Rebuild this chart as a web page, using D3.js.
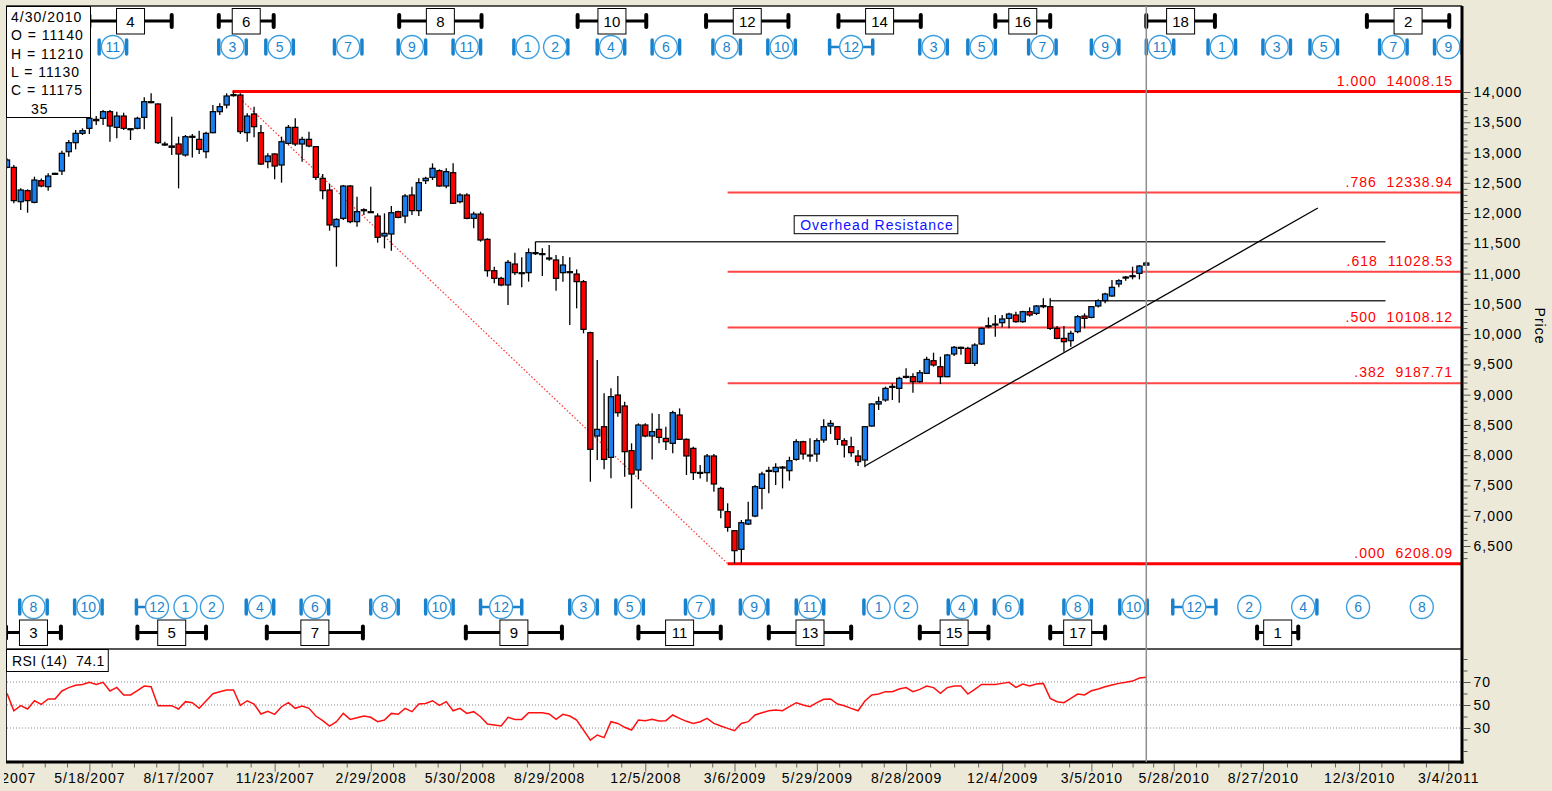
<!DOCTYPE html>
<html>
<head>
<meta charset="utf-8">
<script src="https://cdn.jsdelivr.net/npm/d3@7"></script>
<style>
  html, body { margin: 0; padding: 0; background: #ECE9D8; }
  svg { display: block; font-family: "Liberation Sans", Arial, sans-serif; }
</style>
</head>
<body>
<svg id="chart" width="1552" height="791"></svg>
<script>
// weekly candles, Friday dates 2/23/2007 .. 4/30/2010
const weeks = d3.timeFriday.range(new Date(2007, 1, 23), new Date(2010, 4, 1));

const opens = [12755,12755,12188,12370,12177,12535,12436,12640,12695,13014,13163,13317,13400,13548,13565,13675,13416,13603,13394,13400,
  13581,13840,13802,13141,13108,13141,12959,13262,13218,13014,13328,13675,13785,13950,13950,13328,13636,13328,12849,12976,
  12794,13152,13416,13141,13218,13097,12574,12381,11775,11913,12447,11858,12045,12023,11951,11621,11654,12023,11951,12298,
  12040,12535,12590,12700,12447,12667,12188,12298,11913,11984,11566,11048,10921,10812,11158,11015,11015,11346,11330,11252,
  11225,11015,11032,10993,10867,10024,8317,8471,7964,8994,8813,8075,7755,8499,8317,8427,8278,8196,8664,8262,
  8113,7706,7711,7987,7452,7067,6753,6445,6863,6995,7452,7739,7728,7794,7744,7931,8223,7993,8020,8251,
  8482,8471,8240,8141,7987,7920,8482,8846,8912,9127,9104,9292,9297,9214,9352,9561,9462,9297,9672,9782,
  9765,9517,9837,10134,10167,10189,10261,10316,10206,10371,10343,10460,10454,10096,9930,9892,10041,10299,10277,10465,
  10553,10630,10828,10933,10955,11004,11140];
const highs = [12904,12794,12408,12392,12601,12573,12656,12667,13031,13207,13372,13400,13620,13603,13703,13703,13675,13659,13400,13592,
  13912,13978,13813,13179,13592,13262,13290,13306,13361,13345,13785,13813,13978,14008,13978,13647,13758,13455,12987,12987,
  13262,13455,13565,13262,13345,13108,12645,12480,11913,12464,12464,12271,12078,12436,11995,11995,12117,12040,12315,12436,
  12574,12601,12821,12722,12739,12821,12326,12326,12023,12023,11583,11114,10950,11225,11346,11269,11417,11527,11417,11472,
  11307,11291,11269,11070,10894,10041,9573,9022,9104,9308,8884,8196,8526,8526,8691,8680,8471,8735,8774,8278,
  8141,7838,8020,8020,7480,7205,6764,6929,7232,7507,7728,7810,7865,7821,7975,8262,8240,8278,8278,8592,
  8581,8482,8278,8306,8086,8482,8857,8967,9132,9187,9297,9435,9352,9407,9627,9693,9627,9672,9804,9793,
  9793,9848,10112,10277,10316,10316,10354,10371,10387,10442,10481,10591,10591,10134,10134,10057,10316,10343,10464,10575,
  10685,10894,10905,10960,11114,11142,11210];
const lows = [12739,12161,12050,12006,12161,12425,12370,12630,12629,12932,13053,13290,13306,13455,13455,13179,13234,13372,13207,13383,
  13383,13813,13141,13108,12959,12408,12932,12920,12976,12904,13317,13620,13730,13923,13306,13179,13251,12794,12739,12557,
  12502,13130,13108,12849,13086,12546,12227,11709,11114,11885,11830,11775,11968,12006,11511,11417,11379,11913,11830,11968,
  11951,12480,12546,12436,12408,12150,12161,11896,11748,11527,10949,10839,10790,10481,10977,10773,10867,11307,10960,11214,
  10718,10867,10151,10426,10013,7562,7921,7766,7618,8636,7645,7122,7601,8295,7931,8196,8086,8031,8251,7673,
  7590,7617,7562,7397,6957,6736,6213,6213,6847,6973,7106,7370,7507,7452,7579,7909,7931,7893,7893,8207,
  8350,8168,7964,7975,7821,7799,8471,8747,8884,8912,8868,9269,9033,9198,9341,9462,9176,9286,9638,9660,
  9506,9473,9820,10096,9958,10112,10096,10189,10189,10289,10316,10426,10068,9914,9710,9793,10013,10096,10261,10442,
  10509,10619,10773,10883,10905,10905,11130];
const closes = [12877,12205,12381,12205,12546,12447,12612,12656,12987,13163,13317,13361,13565,13526,13675,13438,13603,13400,13383,13565,
  13840,13835,13163,13135,13086,12976,13262,13268,13053,13317,13675,13758,13934,13956,13345,13603,13427,12810,12943,12777,
  13179,13416,13141,13218,13108,12590,12370,11803,11896,12447,11858,12023,12055,12018,11599,11665,12006,11929,12282,12040,
  12502,12574,12739,12447,12684,12161,12298,11913,11984,11555,11048,10921,10812,11186,11015,11010,11346,11340,11324,11258,
  10922,11142,11026,10867,10079,8097,8427,7931,8967,8702,8058,7689,8499,8317,8389,8295,8223,8702,8262,7987,
  7711,7716,7987,7524,7094,6808,6423,6885,6929,7480,7689,7749,7799,7804,7909,8223,8020,8003,8240,8471,
  8526,8262,8168,8042,7893,8471,8846,8884,9104,9137,9269,9302,9214,9363,9583,9490,9297,9655,9782,9765,
  9517,9820,10096,10139,10162,10250,10332,10206,10371,10316,10465,10470,10096,9930,9875,10013,10288,10261,10454,10553,
  10663,10773,10883,10943,10965,11125,11175];

const rsi14 = [60.1,45.0,49.4,46.5,53.7,50.6,55.2,55.2,62.2,65.1,67.1,67.9,69.7,67.9,69.7,62.2,65.3,58.7,58.7,62.4,
  66.5,65.9,49.4,49.4,49.4,46.5,52.9,52.0,47.1,53.5,59.8,61.6,63.0,63.0,49.7,53.7,50.8,42.2,44.5,41.9,
  48.5,52.0,47.1,49.1,47.1,40.4,36.4,31.7,35.5,42.7,37.5,39.0,40.4,39.3,35.5,36.9,42.7,41.9,47.1,44.2,
  50.8,51.4,53.7,49.7,52.9,45.0,47.1,42.7,44.2,39.8,33.5,32.6,31.7,39.3,37.5,37.5,43.3,43.3,43.3,42.2,
  37.5,41.9,40.4,36.9,28.2,19.5,23.9,21.6,35.5,34.0,30.6,28.2,36.9,36.4,37.5,36.1,36.4,41.3,38.4,35.8,
  34.0,35.5,38.4,34.0,31.7,29.7,27.7,34.0,35.5,41.3,43.3,45.0,45.6,45.0,48.5,52.0,50.0,48.5,52.0,54.9,
  55.2,50.8,49.4,47.1,45.0,53.5,58.7,59.5,61.6,61.6,63.9,65.1,61.6,63.6,66.5,65.1,60.1,65.1,66.5,66.5,
  59.5,63.6,67.9,67.9,67.9,68.8,69.7,65.3,68.2,66.5,68.2,68.8,55.8,52.9,52.0,55.8,59.5,58.7,62.4,63.9,
  65.9,67.4,68.8,69.7,70.8,73.5,74.1];

// fibonacci retracement
const fibLabels = ["1.000", ".786", ".618", ".500", ".382", ".000"];
const fibLevels = [14008.15, 12338.94, 11028.53, 10108.12, 9187.71, 6208.09];
const fibHighDate = "2007-10-11";
const fibLowDate = "2009-02-27";

// drawn lines
const resistanceLines = [
  { from: "2008-08-15", to: "2010-12-30", value: 11527 },
  { from: "2010-01-22", to: "2010-12-30", value: 10552 }
];
const trendLine = [["2009-07-17", 7821], ["2010-10-22", 12084]];
const resistanceNote = { text: "Overhead Resistance", date: "2009-05-12" };

// cycle brackets: label, centre date, half span in weeks
const topCycles = [["4","2007-06-29",6],["6","2007-10-25",4],["8","2008-05-10",6],["10","2008-11-01",5],
  ["12","2009-03-19",6],["14","2009-08-01",6],["16","2009-12-25",4],["18","2010-06-04",5],["2","2011-01-22",6]];
const bottomCycles = [["3","2007-03-22",4],["5","2007-08-10",5],["7","2008-01-03",7],["9","2008-07-24",7],
  ["11","2009-01-09",6],["13","2009-05-22",6],["15","2009-10-16",5],["17","2010-02-19",4],["1","2010-09-11",3]];

// month circles: label, date, left span days, right span days
const topMonths = [["11","2007-06-11",14,14],["3","2007-10-11",14,14],["5","2007-11-28",14,14],["7","2008-02-06",14,14],
  ["9","2008-04-11",14,14],["11","2008-06-06",14,14],["1","2008-08-07",14,0],["2","2008-09-04",0,13],
  ["4","2008-10-31",14,14],["6","2008-12-26",14,14],["8","2009-02-26",14,14],["10","2009-04-23",14,14],
  ["12","2009-07-03",22,22],["3","2009-09-25",14,14],["5","2009-11-13",14,14],["7","2010-01-14",14,14],
  ["9","2010-03-19",14,14],["11","2010-05-14",14,14],["1","2010-07-16",14,14],["3","2010-09-10",14,14],
  ["5","2010-10-28",14,14],["7","2011-01-07",14,14],["9","2011-03-04",14,14]];
const bottomMonths = [["8","2007-03-22",14,14],["10","2007-05-17",14,14],["12","2007-07-26",21,0],["1","2007-08-24",0,0],
  ["2","2007-09-20",0,0],["4","2007-11-08",14,14],["6","2008-01-03",14,14],["8","2008-03-14",14,14],
  ["10","2008-05-09",14,14],["12","2008-07-11",21,21],["3","2008-10-03",14,14],["5","2008-11-19",14,14],
  ["7","2009-01-29",14,14],["9","2009-03-26",14,14],["11","2009-05-22",14,14],["1","2009-07-31",15,0],
  ["2","2009-08-28",0,0],["4","2009-10-24",14,14],["6","2009-12-10",14,14],["8","2010-02-19",14,14],
  ["10","2010-04-17",14,14],["12","2010-06-18",22,22],["2","2010-08-13",0,0],["4","2010-10-07",0,14],
  ["6","2010-12-02",0,0],["8","2011-02-05",0,0]];

const xTickLabels = ["2/16/2007","5/18/2007","8/17/2007","11/23/2007","2/29/2008","5/30/2008","8/29/2008","12/5/2008",
  "3/6/2009","5/29/2009","8/28/2009","12/4/2009","3/5/2010","5/28/2010","8/27/2010","12/3/2010","3/4/2011"];
const priceTicks = d3.range(6500, 14001, 500);
const rsiTicks = [30, 50, 70];

const W = 1552, H = 791;
const plotL = 7, plotR = 1462;
const priceTop = 6, priceBot = 648;
const rsiTop = 648, rsiBot = 762;
const BLUE = "#1a7ff0", RED = "#ff0000", CYCLE = "#1a82cc";

const parse = d3.timeParse("%Y-%m-%d");
const parseTick = d3.timeParse("%m/%d/%Y");

const x = d3.scaleTime()
  .domain([new Date(2007, 1, 23), new Date(2011, 2, 18)])
  .range([plotL, plotR]);
const y = d3.scaleLinear().domain([6500, 14000]).range([546, 92]);
const yr = d3.scaleLinear().domain([0, 100]).range([762.5, 647.5]);

const svg = d3.select('#chart');
const defs = svg.append('defs');
defs.append('clipPath').attr('id', 'priceClip')
  .append('rect').attr('x', plotL).attr('y', priceTop).attr('width', plotR - plotL).attr('height', priceBot - priceTop);
defs.append('clipPath').attr('id', 'rsiClip')
  .append('rect').attr('x', plotL).attr('y', rsiTop).attr('width', plotR - plotL).attr('height', rsiBot - rsiTop);
defs.append('clipPath').attr('id', 'labelClip')
  .append('rect').attr('x', 4).attr('y', 0).attr('width', W).attr('height', H);

svg.append('rect').attr('width', W).attr('height', H).attr('fill', '#ECE9D8');
svg.append('rect').attr('x', plotL).attr('y', priceTop).attr('width', plotR - plotL).attr('height', priceBot - priceTop).attr('fill', '#fff');
svg.append('rect').attr('x', plotL).attr('y', rsiTop).attr('width', plotR - plotL).attr('height', rsiBot - rsiTop).attr('fill', '#fff');

// frame
svg.append('line').attr('x1', plotL - 1).attr('x2', plotR).attr('y1', priceTop).attr('y2', priceTop).attr('stroke', '#222').attr('stroke-width', 1.5);
svg.append('line').attr('x1', plotL - 0.5).attr('x2', plotL - 0.5).attr('y1', priceTop).attr('y2', rsiBot).attr('stroke', '#333').attr('stroke-width', 1);
svg.append('line').attr('x1', plotL).attr('x2', plotR).attr('y1', rsiTop + 1).attr('y2', rsiTop + 1).attr('stroke', '#555').attr('stroke-width', 2);

const price = svg.append('g').attr('clip-path', 'url(#priceClip)');

// fib lines
fibLevels.forEach((v, i) => {
  const start = i === 0 ? parse(fibHighDate) : parse(fibLowDate);
  const edge = i === 0 || i === fibLevels.length - 1;
  price.append('line')
    .attr('x1', x(start)).attr('x2', plotR)
    .attr('y1', y(v)).attr('y2', y(v))
    .attr('stroke', edge ? '#ff0000' : '#ff4545')
    .attr('stroke-width', edge ? 3 : 2);
  price.append('text')
    .attr('x', plotR - 9).attr('y', y(v) - 6)
    .attr('text-anchor', 'end')
    .attr('fill', '#ff0000')
    .style('font-size', '14px').style('letter-spacing', '1px')
    .style('white-space', 'pre')
    .text(fibLabels[i] + '  ' + d3.format('.2f')(v));
});

// dotted retracement leg
price.append('line')
  .attr('x1', x(parse(fibHighDate))).attr('y1', y(fibLevels[0]))
  .attr('x2', x(parse(fibLowDate))).attr('y2', y(fibLevels[fibLevels.length - 1]))
  .attr('stroke', '#ff3030').attr('stroke-width', 1.2).attr('stroke-dasharray', '1.5,2');

// resistance + trend lines
resistanceLines.forEach(r => {
  price.append('line')
    .attr('x1', x(parse(r.from))).attr('x2', x(parse(r.to)))
    .attr('y1', y(r.value)).attr('y2', y(r.value))
    .attr('stroke', '#333').attr('stroke-width', 1.5);
});
price.append('line')
  .attr('x1', x(parse(trendLine[0][0]))).attr('y1', y(trendLine[0][1]))
  .attr('x2', x(parse(trendLine[1][0]))).attr('y2', y(trendLine[1][1]))
  .attr('stroke', '#000').attr('stroke-width', 1.3);

// candles
const candles = weeks.map((d, i) => ({ date: d, o: opens[i], h: highs[i], l: lows[i], c: closes[i] }));
price.selectAll('line.wick').data(candles).join('line')
  .attr('class', 'wick')
  .attr('x1', d => x(d.date)).attr('x2', d => x(d.date))
  .attr('y1', d => y(d.h)).attr('y2', d => y(d.l))
  .attr('stroke', '#000').attr('stroke-width', 1.3);
price.selectAll('rect.body').data(candles).join('rect')
  .attr('class', 'body')
  .attr('x', d => x(d.date) - 2.6).attr('width', 5.2)
  .attr('y', d => y(Math.max(d.o, d.c)))
  .attr('height', d => Math.max(1, Math.abs(y(d.o) - y(d.c))))
  .attr('fill', d => d.c >= d.o ? BLUE : RED)
  .attr('stroke', '#000').attr('stroke-width', 1.2);

// overhead resistance note
const note = price.append('g');
const noteText = note.append('text')
  .attr('x', x(parse(resistanceNote.date))).attr('y', y(resistanceLines[0].value) - 12)
  .attr('fill', '#1010ff')
  .style('font-size', '14px').style('letter-spacing', '1px')
  .text(resistanceNote.text);
const nb = noteText.node().getBBox();
note.insert('rect', 'text')
  .attr('x', nb.x - 6).attr('y', nb.y - 1).attr('width', nb.width + 10).attr('height', nb.height + 2)
  .attr('fill', '#fff').attr('stroke', '#000').attr('stroke-width', 1);

// cycle brackets
function drawCycles(list, cy) {
  const g = svg.append('g').attr('clip-path', 'url(#priceClip)');
  list.forEach(([label, ds, half]) => {
    const c = parse(ds);
    const xc = x(c);
    const xl = x(d3.timeWeek.offset(c, -half));
    const xr = x(d3.timeWeek.offset(c, half));
    g.append('line').attr('x1', xl).attr('x2', xr).attr('y1', cy).attr('y2', cy)
      .attr('stroke', '#000').attr('stroke-width', 3);
    [xl, xr].forEach(xx => {
      g.append('line').attr('x1', xx).attr('x2', xx).attr('y1', cy - 6).attr('y2', cy + 6)
        .attr('stroke', '#000').attr('stroke-width', 4).attr('stroke-linecap', 'round');
    });
    g.append('rect').attr('x', xc - 14).attr('y', cy - 12.5).attr('width', 28).attr('height', 25.5)
      .attr('fill', '#fff').attr('stroke', '#000').attr('stroke-width', 1);
    g.append('text').attr('x', xc).attr('y', cy + 5.5).attr('text-anchor', 'middle')
      .style('font-size', '15px').text(label);
  });
}

function drawMonths(list, cy) {
  const g = svg.append('g').attr('clip-path', 'url(#priceClip)');
  const r = 11.5;
  list.forEach(([label, ds, left, right]) => {
    const c = parse(ds);
    const xc = x(c);
    [[left, -1], [right, 1]].forEach(([span, dir]) => {
      if (!span) return;
      const xb = x(d3.timeDay.offset(c, dir * span));
      if (Math.abs(xb - xc) > r + 5) {
        g.append('line').attr('x1', xb).attr('x2', xc).attr('y1', cy).attr('y2', cy)
          .attr('stroke', CYCLE).attr('stroke-width', 2.5);
      }
      g.append('line').attr('x1', xb).attr('x2', xb).attr('y1', cy - 7).attr('y2', cy + 7)
        .attr('stroke', CYCLE).attr('stroke-width', 3.5).attr('stroke-linecap', 'round');
    });
    g.append('circle').attr('cx', xc).attr('cy', cy).attr('r', r)
      .attr('fill', '#fff').attr('stroke', '#3b9ee0').attr('stroke-width', 1.4);
    g.append('text').attr('x', xc).attr('y', cy + 5).attr('text-anchor', 'middle')
      .attr('fill', CYCLE).style('font-size', '14px').text(label);
  });
}

drawCycles(topCycles, 21);
drawMonths(topMonths, 47);
drawMonths(bottomMonths, 607);
drawCycles(bottomCycles, 632.5);

// price axis
const axisX = plotR + 1.5;
const minorPrice = d3.range(6300, 14001, 100).filter(v => v % 500 !== 0);
svg.append('g').attr('transform', `translate(${axisX},0)`)
  .call(d3.axisRight(y).tickValues(minorPrice).tickSize(4).tickFormat(''))
  .call(g => g.select('.domain').remove())
  .call(g => g.selectAll('line').attr('stroke', '#555'));
svg.append('g').attr('transform', `translate(${axisX},0)`)
  .call(d3.axisRight(y).tickValues(priceTicks).tickSize(7).tickPadding(3).tickFormat(d3.format(',')))
  .call(g => g.select('.domain').remove())
  .call(g => g.selectAll('line').attr('stroke', '#555'))
  .call(g => g.selectAll('text').attr('fill', '#000')
    .style('font-size', '14px').style('letter-spacing', '1px')
    .style('font-family', '"Liberation Sans", Arial, sans-serif'));
svg.append('text')
  .attr('transform', `translate(1535,326) rotate(90)`)
  .attr('text-anchor', 'middle')
  .style('font-size', '14px').style('letter-spacing', '1px')
  .text('Price');

// RSI panel
const rsiG = svg.append('g').attr('clip-path', 'url(#rsiClip)');
rsiTicks.forEach(v => {
  rsiG.append('line').attr('x1', plotL).attr('x2', plotR).attr('y1', yr(v)).attr('y2', yr(v))
    .attr('stroke', '#8a8a8a').attr('stroke-width', 1).attr('stroke-dasharray', '1,2');
});
rsiG.append('path')
  .datum(rsi14)
  .attr('fill', 'none').attr('stroke', '#ff1010').attr('stroke-width', 1.5)
  .attr('d', d3.line().x((d, i) => x(weeks[i])).y(d => yr(d)));

svg.append('g').attr('transform', `translate(${axisX},0)`)
  .call(d3.axisRight(yr).tickValues([10, 20, 40, 60, 80, 90]).tickSize(4).tickFormat(''))
  .call(g => g.select('.domain').remove())
  .call(g => g.selectAll('line').attr('stroke', '#555'));
svg.append('g').attr('transform', `translate(${axisX},0)`)
  .call(d3.axisRight(yr).tickValues(rsiTicks).tickSize(7).tickPadding(3))
  .call(g => g.select('.domain').remove())
  .call(g => g.selectAll('line').attr('stroke', '#555'))
  .call(g => g.selectAll('text').attr('fill', '#000')
    .style('font-size', '14px').style('letter-spacing', '1px')
    .style('font-family', '"Liberation Sans", Arial, sans-serif'));

const rsiBox = svg.append('g');
const rsiText = rsiBox.append('text').attr('x', 12).attr('y', rsiTop + 18)
  .style('font-size', '14px').style('letter-spacing', '0.4px').style('white-space', 'pre')
  .text(`RSI (14)  ${rsi14[rsi14.length - 1].toFixed(1)}`);
const rb = rsiText.node().getBBox();
rsiBox.insert('rect', 'text').attr('x', plotL - 0.5).attr('y', rsiTop + 1.5)
  .attr('width', rb.x + rb.width + 4 - plotL).attr('height', 22)
  .attr('fill', '#fff').attr('stroke', '#000').attr('stroke-width', 1);

// x axis
const majorDates = xTickLabels.map(parseTick);
const minorDates = [];
for (let i = 0; i < majorDates.length - 1; i++) {
  const a = majorDates[i].getTime(), b = majorDates[i + 1].getTime();
  for (let k = 1; k < 4; k++) minorDates.push(new Date(a + (b - a) * k / 4));
}
const xAxisG = svg.append('g').attr('clip-path', 'url(#labelClip)');
xAxisG.append('g').attr('transform', `translate(0,${rsiBot + 1.5})`)
  .call(d3.axisBottom(x).tickValues(minorDates.filter(d => x(d) > plotL && x(d) < plotR)).tickSize(4).tickFormat(''))
  .call(g => g.select('.domain').remove())
  .call(g => g.selectAll('line').attr('stroke', '#666'));
xAxisG.append('g').attr('transform', `translate(0,${rsiBot + 1.5})`)
  .call(d3.axisBottom(x).tickValues(majorDates).tickSize(8).tickPadding(2).tickFormat((d, i) => xTickLabels[i]))
  .call(g => g.select('.domain').remove())
  .call(g => g.selectAll('line').attr('stroke', '#666'))
  .call(g => g.selectAll('text').attr('fill', '#000')
    .style('font-size', '14px').style('letter-spacing', '1px')
    .style('font-family', '"Liberation Sans", Arial, sans-serif'));

// bottom and right frame
svg.append('line').attr('x1', plotL - 1).attr('x2', plotR + 1.5).attr('y1', rsiBot).attr('y2', rsiBot)
  .attr('stroke', '#000').attr('stroke-width', 3);
svg.append('line').attr('x1', plotR).attr('x2', plotR).attr('y1', priceTop).attr('y2', rsiBot + 1.5)
  .attr('stroke', '#000').attr('stroke-width', 3);

// cursor line at last bar
const lastDate = weeks[weeks.length - 1];
svg.append('line').attr('x1', x(lastDate)).attr('x2', x(lastDate)).attr('y1', priceTop).attr('y2', rsiBot)
  .attr('stroke', '#8f8f8f').attr('stroke-width', 1.5);

// OHLC info box
const last = candles.length - 1;
const fmtDate = d3.timeFormat('%-m/%-d/%Y');
const infoLines = [fmtDate(lastDate), `O = ${opens[last]}`, `H = ${highs[last]}`, `L = ${lows[last]}`, `C = ${closes[last]}`];
const info = svg.append('g');
info.append('rect').attr('x', plotL - 0.5).attr('y', priceTop + 0.5).attr('width', 84).attr('height', 111)
  .attr('fill', '#fff').attr('stroke', '#000').attr('stroke-width', 1);
infoLines.forEach((t, i) => {
  info.append('text').attr('x', 11).attr('y', 22 + i * 18.3)
    .style('font-size', '14px').style('letter-spacing', '1px').text(t);
});
info.append('text').attr('x', 31).attr('y', 113.5)
  .style('font-size', '14px').style('letter-spacing', '1px').text(closes[last] - opens[last]);
</script>
</body>
</html>
